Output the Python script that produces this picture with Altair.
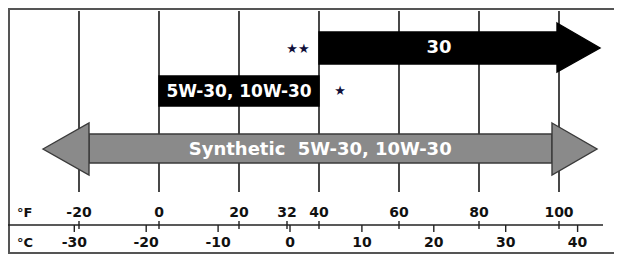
import altair as alt
import pandas as pd

# ---------------- data ----------------
grades = ["30", "5W-30, 10W-30", "Synthetic\u00a0 5W-30, 10W-30"]
grade_lo_F = [40, 0, -20]
grade_hi_F = [100, 40, 100]

grid_F = [-20, 0, 20, 40, 60, 80, 100]
F_ticks = [-20, 0, 20, 32, 40, 60, 80, 100]
F_labels = ["-20", "0", "20", "32", "40", "60", "80", "100"]
C_ticks = [-30, -20, -10, 0, 10, 20, 30, 40]
C_labels = ["-30", "-20", "-10", "0", "10", "20", "30", "40"]

star_text = ["\u2605\u2605", "\u2605"]
star_F = [34.75, 45.25]

# ---------------- layout / style ----------------
W, H = 606, 246
FONT = "DejaVu Sans"
xF = alt.Scale(domain=[-151 / 4, (W - 151) / 4], nice=False, zero=False)
xC = alt.Scale(domain=[-282 / 7.19, (W - 282) / 7.19], nice=False, zero=False)
yS = alt.Scale(domain=[8, 8 + H], reverse=True, nice=False, zero=False)

GREY = "#8a8a8a"
GREY_EDGE = "#3a3a3a"

def XF(f="f"):
    return alt.X(f"{f}:Q", scale=xF, axis=None)

def XC(f="c"):
    return alt.X(f"{f}:Q", scale=xC, axis=None)

def Y(f="y"):
    return alt.Y(f"{f}:Q", scale=yS, axis=None)

# frame
frame_df = pd.DataFrame({"y": [9, 253]})
frame_h = alt.Chart(frame_df).mark_rule(color="#555555", strokeWidth=2).encode(
    x=alt.value(0), x2=alt.value(W), y=Y("y"))
frame_v = alt.Chart(pd.DataFrame({"y": [9], "y2": [253]})).mark_rule(
    color="#555555", strokeWidth=2).encode(x=alt.value(1), y=Y("y"), y2="y2:Q")

# grid lines
grid = alt.Chart(pd.DataFrame({"f": grid_F, "y": 11, "y2": 192})).mark_rule(
    color="#1a1a1a", strokeWidth=1.6).encode(x=XF("f"), y=Y("y"), y2="y2:Q")

# arrow bodies / boxes
bodies = pd.DataFrame({
    "f0": [grade_lo_F[0], grade_lo_F[1], grade_lo_F[2] + 2.5],
    "f1": [grade_hi_F[0], grade_hi_F[1], grade_hi_F[2] - 1.75],
    "y0": [32, 76, 134],
    "y1": [64, 106, 163],
    "fill": ["#000000", "#000000", GREY],
    "stroke": ["#000000", "#000000", GREY_EDGE],
})
body_layer = alt.Chart(bodies).mark_rect(strokeWidth=1.4).encode(
    x=XF("f0"), x2="f1:Q", y=Y("y0"), y2="y1:Q",
    fill=alt.Fill("fill:N", scale=None), stroke=alt.Stroke("stroke:N", scale=None))

# arrow heads (triangles)
heads = pd.DataFrame({
    "id": ["a", "a", "b", "b", "c", "c"],
    "f": [grade_hi_F[0] - 0.5, grade_hi_F[0] + 10.25,
          grade_hi_F[2] - 1.75, grade_hi_F[2] + 9.5,
          grade_lo_F[2] + 2.5, grade_lo_F[2] - 9.0],
    "y0": [23, 48, 123, 149, 123, 149],
    "y1": [72, 48, 175, 149, 175, 149],
    "fill": ["#000000", "#000000", GREY, GREY, GREY, GREY],
    "stroke": ["#000000", "#000000", GREY_EDGE, GREY_EDGE, GREY_EDGE, GREY_EDGE],
})
head_layer = alt.Chart(heads).mark_area(orient="vertical", strokeWidth=1.4).encode(
    x=XF("f"), y=Y("y0"), y2="y1:Q", detail="id:N",
    fill=alt.Fill("fill:N", scale=None), stroke=alt.Stroke("stroke:N", scale=None))

# labels in the arrows
lab_df = pd.DataFrame({
    "t": grades,
    "f": [(grade_lo_F[0] + grade_hi_F[0]) / 2, (grade_lo_F[1] + grade_hi_F[1]) / 2,
          (grade_lo_F[2] + grade_hi_F[2]) / 2 + 0.3],
    "y": [48, 91.5, 149.5],
    "size": [18, 17, 18],
})
lab_layer = alt.Chart(lab_df).mark_text(
    font=FONT, fontWeight="bold", color="white", baseline="middle", align="center").encode(
    x=XF("f"), y=Y("y"), text="t:N", size=alt.Size("size:Q", scale=None))

# stars
star_layer = alt.Chart(pd.DataFrame({"t": star_text, "f": star_F, "y": [49, 90.5]})).mark_text(
    font=FONT, fontSize=13, color="#10103a", baseline="middle", align="center").encode(
    x=XF("f"), y=Y("y"), text="t:N")

# temperature axis
axis_line = alt.Chart(pd.DataFrame({"y": [225]})).mark_rule(color="#222222", strokeWidth=1.4).encode(
    x=alt.value(0), x2=alt.value(595), y=Y("y"))
f_ticks = alt.Chart(pd.DataFrame({"f": F_ticks, "y": 221, "y2": 229})).mark_rule(
    color="#222222", strokeWidth=1.4).encode(x=XF("f"), y=Y("y"), y2="y2:Q")
f_labs = alt.Chart(pd.DataFrame({"f": F_ticks, "t": F_labels, "y": 212.5})).mark_text(
    font=FONT, fontWeight="bold", fontSize=14, color="#111111", baseline="middle").encode(
    x=XF("f"), y=Y("y"), text="t:N")
c_ticks = alt.Chart(pd.DataFrame({"c": C_ticks, "y": 225, "y2": 232})).mark_rule(
    color="#222222", strokeWidth=1.4).encode(x=XC("c"), y=Y("y"), y2="y2:Q")
c_labs = alt.Chart(pd.DataFrame({"c": C_ticks, "t": C_labels, "y": 242.5})).mark_text(
    font=FONT, fontWeight="bold", fontSize=14, color="#111111", baseline="middle").encode(
    x=XC("c"), y=Y("y"), text="t:N")

unit_labs = alt.Chart(pd.DataFrame({"t": ["\u00b0F", "\u00b0C"], "y": [212.5, 242.5]})).mark_text(
    font=FONT, fontWeight="bold", fontSize=13, color="#111111", baseline="middle", align="left").encode(
    x=alt.value(9), y=Y("y"), text="t:N")

chart = alt.layer(
    frame_h, frame_v, grid, body_layer, head_layer, lab_layer, star_layer,
    axis_line, f_ticks, f_labs, c_ticks, c_labs, unit_labs,
).resolve_scale(x="independent").properties(
    width=W, height=H, autosize=alt.AutoSizeParams(type="none"), padding=0,
).configure_view(stroke=None)

chart.save("out.html", embed_options={"renderer": "svg", "actions": False})
